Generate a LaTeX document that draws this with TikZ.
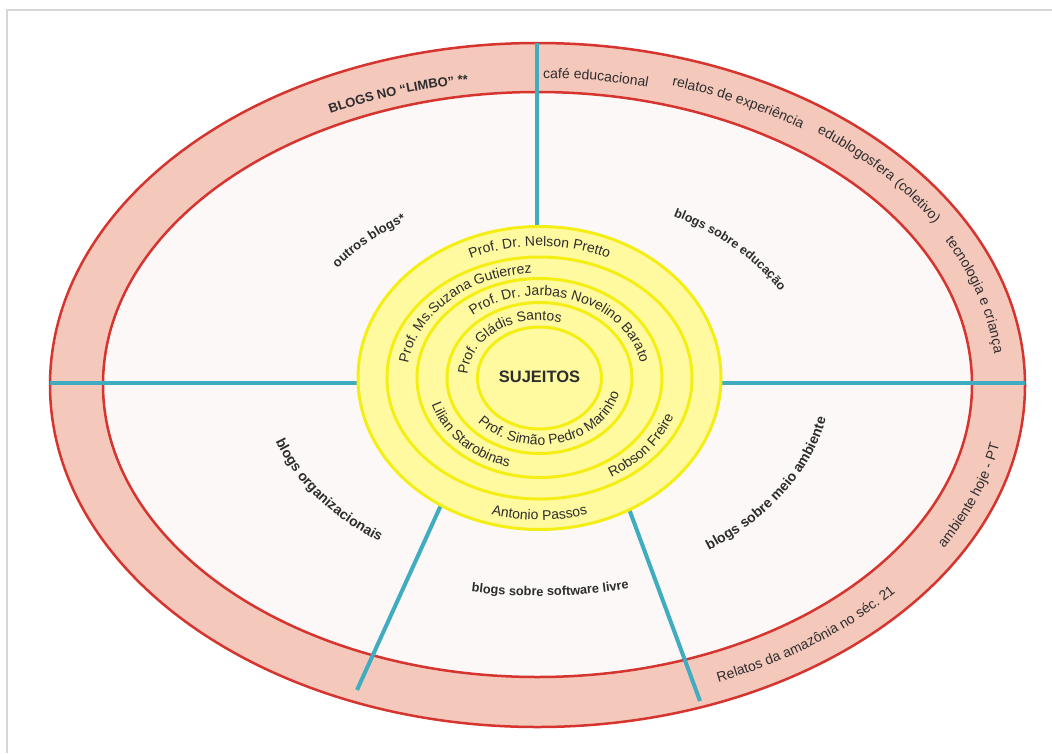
\documentclass[tikz,border=0pt]{standalone}
\usepackage{fontspec}
\setmainfont{Liberation Sans}
\usetikzlibrary{decorations.text}

\definecolor{bandpink}{RGB}{245,200,188}
\definecolor{bandred}{RGB}{214,52,46}
\definecolor{innerbg}{RGB}{252,248,247}
\definecolor{ringfill}{RGB}{255,250,160}
\definecolor{ringline}{RGB}{244,238,20}
\definecolor{spokeblue}{RGB}{64,172,192}
\definecolor{txtgray}{RGB}{45,45,45}
\definecolor{framegray}{RGB}{215,215,215}

\newcommand\plainfont{\fontsize{14}{16}\selectfont}
\newcommand\boldfont[1]{\bfseries\fontsize{#1}{#1}\selectfont}

\tikzset{
  band/.style={draw=bandred, line width=2.5pt},
  ring/.style={draw=ringline, line width=3pt, fill=ringfill},
  spoke/.style={draw=spokeblue, line width=4pt},
  curved/.style={decorate, decoration={text along path, text align=center,
    text color=txtgray, text={#1}}},
}

\begin{document}
\begin{tikzpicture}[x=1pt,y=1pt]
\useasboundingbox (0,0) rectangle (1052,-753);
\fill[white] (0,0) rectangle (1052,-753);
\draw[framegray, line width=1.5pt] (7,-753) -- (7,-10) -- (1052,-10);

% outer band
\draw[band, fill=bandpink] (537.5,-385) ellipse [x radius=487.5, y radius=342];
\draw[band, fill=innerbg] (537.5,-384.5) ellipse [x radius=434.5, y radius=292.5];

% spokes
\coordinate (nOut) at (537,-43);
\coordinate (nIn) at (537,-240);
\coordinate (wOut) at (50,-383);
\coordinate (wIn) at (370,-383);
\coordinate (eIn) at (710,-383);
\coordinate (eOut) at (1025,-383);
\coordinate (swIn) at (446,-494);
\coordinate (swOut) at (357,-690);
\coordinate (seIn) at (625,-498);
\coordinate (seOut) at (700,-701);
\draw[spoke] (nIn) -- (nOut);
\draw[spoke] (wIn) -- (wOut);
\draw[spoke] (eIn) -- (eOut);
\draw[spoke] (swIn) -- (swOut);
\draw[spoke] (seIn) -- (seOut);

% rings
\draw[ring] (539.5,-378) ellipse [x radius=181.5, y radius=151.5];
\draw[ring] (539.5,-378) ellipse [x radius=152.5, y radius=121];
\draw[ring] (539.5,-378) ellipse [x radius=122.5, y radius=99.5];
\draw[ring] (539.5,-378) ellipse [x radius=92.5, y radius=75.5];
\draw[ring] (539.5,-378) ellipse [x radius=62, y radius=51];

\node[font=\boldfont{16.5}, text=txtgray] (sujeitos) at (539.5,-377) {SUJEITOS};

% names in the rings
\begin{scope}[shift={(539.5,-378)}]
\path[curved={|\plainfont|Prof. Dr. Nelson Pretto}]
  (150:162 and 132) arc[start angle=150, end angle=30, x radius=162, y radius=132];
\path[curved={|\plainfont|Antonio Passos}]
  (-140:172 and 142) arc[start angle=-140, end angle=-40, x radius=172, y radius=142];
\path[curved={|\plainfont|Prof. Ms.Suzana Gutierrez}]
  (195:132.5 and 105) arc[start angle=195, end angle=75, x radius=132.5, y radius=105];
\path[curved={|\plainfont|Robson Freire}]
  (-77:142.5 and 115) arc[start angle=-77, end angle=1, x radius=142.5, y radius=115];
\path[curved={|\plainfont|Prof. Dr. Jarbas Novelino Barato}]
  (152:102.5 and 82.5) arc[start angle=152, end angle=-13, x radius=102.5, y radius=82.5];
\path[curved={|\plainfont|Lilian Starobinas}]
  (181:112.5 and 92.5) arc[start angle=181, end angle=267, x radius=112.5, y radius=92.5];
\path[curved={|\plainfont|Prof. Gládis Santos}]
  (190:72 and 58) arc[start angle=190, end angle=62, x radius=72, y radius=58];
\path[curved={|\plainfont|Prof. Simão Pedro Marinho}]
  (199:82 and 67) arc[start angle=199, end angle=370, x radius=82, y radius=67];

% blog kinds
\path[curved={|\boldfont{13}|outros blogs*}]
  (163:251 and 185.5) arc[start angle=163, end angle=106, x radius=251, y radius=185.5];
\path[curved={|\boldfont{12.5}|blogs sobre educação}]
  (74:272 and 186) arc[start angle=74, end angle=10, x radius=272, y radius=186];
\path[curved={|\boldfont{14}|blogs organizacionais}]
  (176:278 and 200) arc[start angle=176, end angle=252, x radius=278, y radius=200];
\path[curved={|\boldfont{14}|blogs sobre meio ambiente}]
  (-67:292 and 211) arc[start angle=-67, end angle=5, x radius=292, y radius=211];
\path[curved={|\boldfont{12.75}|blogs sobre software livre}]
  (237:343 and 218) arc[start angle=237, end angle=307, x radius=343, y radius=218];
\end{scope}

% blogs in the band
\begin{scope}[shift={(537.5,-385)}]
\path[curved={|\boldfont{13}|BLOGS NO “LIMBO” **}]
  (128.5:452 and 305) arc[start angle=128.5, end angle=88.5, x radius=452, y radius=305];
\path[curved={|\plainfont|café educacional}]
  (97:453 and 307) arc[start angle=97, end angle=68, x radius=453, y radius=307];
\path[curved={|\plainfont|relatos de experiência}]
  (80:458 and 313) arc[start angle=80, end angle=47, x radius=458, y radius=313];
\path[curved={|\plainfont|edublogosfera (coletivo)}]
  (59:461 and 317) arc[start angle=59, end angle=23, x radius=461, y radius=317];
\path[curved={|\plainfont|tecnologia e criança}]
  (35:459 and 314) arc[start angle=35, end angle=-3, x radius=459, y radius=314];
\path[curved={|\plainfont|Relatos da amazônia no séc. 21}]
  (-74:468 and 322) arc[start angle=-74, end angle=-32, x radius=468, y radius=322];
\path[curved={|\plainfont|ambiente hoje - PT}]
  (-35:470 and 325) arc[start angle=-35, end angle=-5, x radius=470, y radius=325];
\end{scope}
\end{tikzpicture}
\end{document}
